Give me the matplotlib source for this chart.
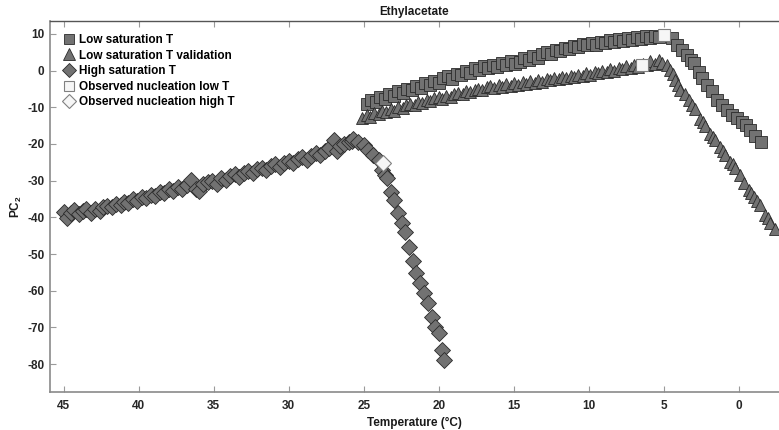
import matplotlib
matplotlib.use('Agg')
import matplotlib.pyplot as plt

plt.rcParams['font.family'] = ['Liberation Sans', 'DejaVu Sans']
plt.rcParams['font.weight'] = 'bold'
plt.rcParams['mathtext.fontset'] = 'custom'
plt.rcParams['mathtext.bf'] = 'Liberation Sans:bold'
plt.rcParams['mathtext.rm'] = 'Liberation Sans:bold'
plt.rcParams['mathtext.default'] = 'bf'
plt.rcParams['axes.unicode_minus'] = False

# Low saturation T (squares)
T_low = [24.8, 24.5, 24.2, 23.9, 23.6, 23.3, 23.0, 22.7, 22.4, 22.1, 21.8, 21.5, 21.2, 20.9,
         20.6, 20.3, 20.0, 19.7, 19.4, 19.1, 18.8, 18.5, 18.2, 17.9, 17.6, 17.3, 17.0, 16.7,
         16.4, 16.1, 15.8, 15.5, 15.2, 14.9, 14.6, 14.3, 14.0, 13.7, 13.4, 13.1, 12.8, 12.5,
         12.2, 11.9, 11.6, 11.3, 11.0, 10.7, 10.4, 10.1, 9.8, 9.5, 9.2, 8.9, 8.6, 8.3, 8.0,
         7.7, 7.4, 7.1, 6.8, 6.5, 6.2, 5.9, 5.6, 5.3,
         4.45, 4.1, 3.77, 3.44, 3.2, 3.0, 2.67, 2.45, 2.1, 1.77, 1.44, 1.1, 0.77, 0.44,
         0.1, -0.2, -0.5, -0.77, -1.1, -1.44]
PC_low = [-9.1, -8.0, -8.6, -7.2, -7.7, -6.4, -6.9, -5.6, -6.1, -4.9, -5.3, -4.3, -4.8, -3.5,
          -3.9, -2.8, -3.3, -2.0, -1.4, -2.2, -0.9, -1.3, -0.2, -0.7, 0.6, 0.1, 1.2, 0.7,
          1.6, 1.1, 2.0, 1.5, 2.6, 1.8, 2.4, 3.3, 2.8, 3.9, 3.5, 4.4, 5.0, 4.6, 5.6, 5.2,
          6.2, 5.8, 6.8, 6.3, 7.3, 6.9, 7.6, 7.0, 7.9, 7.4, 8.2, 7.8, 8.6, 8.1, 8.9, 8.4,
          9.2, 8.7, 9.4, 8.9, 9.5, 9.1,
          8.8, 7.0, 5.6, 4.3, 3.0, 2.0, -0.3, -2.1, -3.9, -5.7, -8.0, -9.4, -10.7, -12.1,
          -13.0, -13.9, -14.8, -16.2, -17.8, -19.4]

# Low saturation T validation (triangles)
T_val = [25.1, 24.8, 24.6, 24.3, 24.0, 23.8, 23.5, 23.2, 23.0, 22.7, 22.4, 22.2, 21.9, 21.6,
         21.4, 21.1, 20.8, 20.6, 20.3, 20.0, 19.8, 19.5, 19.2, 19.0, 18.7, 18.4, 18.2, 17.9,
         17.6, 17.4, 17.1, 16.8, 16.6, 16.3, 16.0, 15.8, 15.5, 15.2, 15.0, 14.7, 14.4, 14.2,
         13.9, 13.6, 13.4, 13.1, 12.8, 12.6, 12.3, 12.0, 11.8, 11.5, 11.2, 11.0, 10.7, 10.4,
         10.2, 9.9, 9.6, 9.4, 9.1, 8.8, 8.6, 8.3, 8.0, 7.8, 7.5, 7.2, 7.0, 6.7, 6.4, 6.1,
         5.9, 5.6, 5.3, 5.1, 4.8,
         4.57, 4.4, 4.23, 4.05, 3.9, 3.6, 3.3, 3.1, 2.95, 2.6, 2.4, 2.25, 1.9, 1.75, 1.57,
         1.25, 1.05, 0.9, 0.57, 0.4, 0.23, -0.1, -0.35, -0.65, -0.8, -1.0, -1.2, -1.43,
         -1.77, -1.95, -2.1, -2.43]
PC_val = [-12.9, -12.2, -12.6, -11.6, -11.9, -11.0, -11.4, -10.5, -10.9, -9.8, -10.2, -9.4,
          -9.0, -9.5, -8.6, -8.9, -8.0, -8.4, -7.6, -7.2, -7.7, -6.8, -7.1, -6.4, -6.0,
          -6.5, -5.6, -5.9, -5.2, -4.9, -5.4, -4.6, -4.3, -4.8, -4.0, -4.4, -3.7, -4.1,
          -3.5, -3.8, -3.2, -3.6, -2.9, -3.3, -2.6, -3.0, -2.3, -2.7, -2.0, -2.4, -1.7,
          -2.1, -1.4, -1.8, -1.1, -1.5, -0.8, -1.2, -0.4, -0.8, 0.0, -0.4, 0.4, 0.0, 0.8,
          0.4, 1.2, 0.8, 1.6, 1.1, 1.9, 1.4, 2.6, 1.8, 2.8, 2.1, 1.4,
          0.2, -1.0, -2.5, -3.8, -5.3, -6.5, -8.0, -9.3, -10.5, -13.2, -14.0, -15.2,
          -17.4, -18.0, -18.9, -20.7, -21.8, -23.0, -24.8, -25.6, -26.6, -28.5, -30.7,
          -32.5, -33.3, -34.4, -35.5, -36.6, -39.4, -40.3, -41.6, -43.3]

# High saturation T (diamonds)
T_high = [45.0, 44.8, 44.5, 44.3, 44.0, 43.7, 43.5, 43.2, 42.9, 42.6, 42.4, 42.1, 41.8, 41.5,
          41.2, 41.0, 40.7, 40.4, 40.1, 39.8, 39.5, 39.2, 38.9, 38.6, 38.3, 38.0, 37.7,
          37.4, 37.1, 36.8, 36.5, 36.2, 36.0, 35.7, 35.4, 35.1, 34.8, 34.5, 34.2, 33.9,
          33.6, 33.3, 33.0, 32.7, 32.4, 32.1, 31.8, 31.5, 31.2, 30.9, 30.6, 30.3, 30.0,
          29.7, 29.4, 29.1, 28.8, 28.5, 28.2, 27.9, 27.6, 27.3, 27.0, 26.8, 26.6, 26.3,
          26.0, 25.8, 25.7,
          25.38, 25.0, 24.7, 24.35, 24.0, 23.8, 23.57, 23.45, 23.2, 22.97, 22.7, 22.45,
          22.23, 21.95, 21.7, 21.5, 21.23, 21.0, 20.7, 20.45, 20.23, 20.0, 19.75, 19.68]
PC_high = [-38.5, -40.2, -38.9, -38.0, -39.1, -38.3, -37.8, -38.8, -37.6, -38.3, -37.3,
           -36.9, -37.3, -36.3, -36.7, -35.8, -36.1, -35.1, -35.5, -34.5, -34.8, -33.9,
           -34.2, -33.0, -33.5, -32.4, -32.9, -31.8, -32.2, -31.2, -29.8, -32.2, -32.7,
           -30.9, -30.5, -30.1, -30.8, -29.3, -29.7, -28.8, -28.2, -29.0, -27.8, -27.4,
           -28.0, -26.9, -26.5, -27.1, -26.0, -25.6, -26.2, -25.1, -24.6, -25.3, -24.2,
           -23.6, -24.3, -23.2, -22.5, -23.1, -22.0, -21.2, -19.0, -22.0, -20.6, -20.1,
           -19.5, -19.2, -18.6,
           -19.4, -20.3, -21.6, -23.0, -24.4, -27.1, -28.5, -29.4, -33.0, -35.3, -38.9,
           -41.6, -43.9, -48.0, -51.9, -55.1, -58.0, -60.7, -63.4, -67.1, -69.8, -71.6,
           -76.2, -78.9]

# Observed nucleation points
T_nuc_low = [5.0, 6.45]
PC_nuc_low = [9.7, 1.5]
T_nuc_high = [23.7]
PC_nuc_high = [-25.3]

fig = plt.figure(figsize=(7.79, 4.30), dpi=100)
ax = fig.add_axes([0.0642, 0.0884, 0.9358, 0.8627])

face = '#727272'
edge = '#2a2a2a'
ax.plot(T_low, PC_low, 's', ms=8.0, mfc=face, mec=edge, mew=0.6, label='Low saturation T')
ax.plot(T_val, PC_val, '^', ms=9.0, mfc=face, mec=edge, mew=0.6, label='Low saturation T validation')
ax.plot(T_high, PC_high, 'D', ms=8.0, mfc=face, mec=edge, mew=0.6, label='High saturation T')
ax.plot(T_nuc_low, PC_nuc_low, 's', ms=8.0, mfc='#f6f6f6', mec='#808080', mew=0.8,
        label='Observed nucleation low T', zorder=5)
ax.plot(T_nuc_high, PC_nuc_high, 'D', ms=8.0, mfc='#f6f6f6', mec='#808080', mew=0.8,
        label='Observed nucleation high T', zorder=5)

ax.set_xlim(45.9, -2.67)
ax.set_ylim(-87.6, 13.5)
ax.set_xticks([45, 40, 35, 30, 25, 20, 15, 10, 5, 0])
ax.set_yticks([-80, -70, -60, -50, -40, -30, -20, -10, 0, 10])

for side in ['left', 'bottom']:
    ax.spines[side].set_color('#8a8a8a')
    ax.spines[side].set_linewidth(1.2)
ax.spines['top'].set_color('#555555')
ax.spines['top'].set_linewidth(1.0)
ax.spines['right'].set_visible(False)
ax.tick_params(direction='in', length=4, width=0.8, color='#9a9a9a',
               labelsize=8.5, labelcolor='#262626', top=True)
ax.tick_params(axis='x', pad=6)
ax.tick_params(axis='y', pad=4)

ax.set_title('Ethylacetate', fontsize=8.5, fontweight='bold', color='#1a1a1a', pad=4)
ax.set_xlabel('Temperature (°C)', fontsize=8.5, fontweight='bold', color='#1a1a1a', labelpad=3)
ax.set_ylabel('PC$_2$', fontsize=8.5, fontweight='bold', color='#1a1a1a', labelpad=2)

ax.legend(loc='upper left', frameon=False, fontsize=8.5, handlelength=1.0,
          handletextpad=0.35, labelspacing=0.3, borderaxespad=0.7, markerscale=0.9,
          bbox_to_anchor=(0.0, 1.0))

fig.savefig('out.png', dpi=100)
